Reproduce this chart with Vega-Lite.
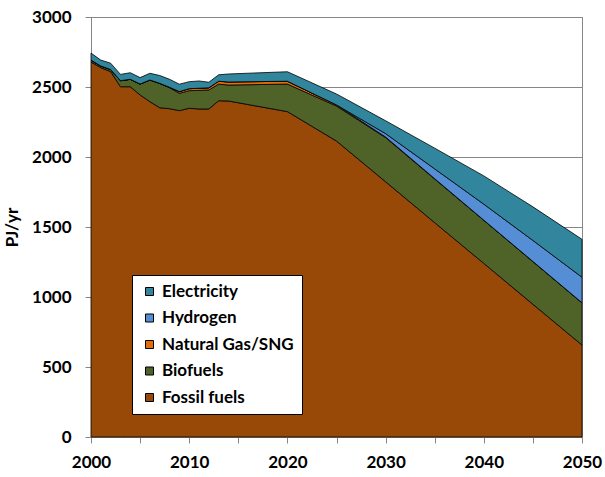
{
  "$schema": "https://vega.github.io/schema/vega-lite/v6.json",
  "width": 491,
  "height": 420,
  "autosize": "none",
  "padding": {"left": 91, "top": 17, "right": 23, "bottom": 40},
  "background": "white",
  "config": {
    "font": "Lato",
    "view": {"stroke": "#868686", "strokeWidth": 1},
    "axis": {
      "labelFont": "Lato",
      "labelFontWeight": "bold",
      "labelFontSize": 17,
      "labelColor": "black",
      "titleFont": "Lato",
      "titleFontWeight": "bold",
      "titleFontSize": 17,
      "titleColor": "black",
      "domainColor": "#868686",
      "tickColor": "#868686",
      "gridColor": "#868686"
    }
  },
  "data": {
    "values": [
      {"year": 2000, "fuel": "Fossil fuels", "pj": 2678}, {"year": 2000, "fuel": "Biofuels", "pj": 14}, {"year": 2000, "fuel": "Natural Gas/SNG", "pj": 0}, {"year": 2000, "fuel": "Hydrogen", "pj": 0}, {"year": 2000, "fuel": "Electricity", "pj": 50},
      {"year": 2001, "fuel": "Fossil fuels", "pj": 2638}, {"year": 2001, "fuel": "Biofuels", "pj": 12}, {"year": 2001, "fuel": "Natural Gas/SNG", "pj": 0}, {"year": 2001, "fuel": "Hydrogen", "pj": 0}, {"year": 2001, "fuel": "Electricity", "pj": 42},
      {"year": 2002, "fuel": "Fossil fuels", "pj": 2610}, {"year": 2002, "fuel": "Biofuels", "pj": 15}, {"year": 2002, "fuel": "Natural Gas/SNG", "pj": 0}, {"year": 2002, "fuel": "Hydrogen", "pj": 0}, {"year": 2002, "fuel": "Electricity", "pj": 45},
      {"year": 2003, "fuel": "Fossil fuels", "pj": 2502}, {"year": 2003, "fuel": "Biofuels", "pj": 43}, {"year": 2003, "fuel": "Natural Gas/SNG", "pj": 0}, {"year": 2003, "fuel": "Hydrogen", "pj": 0}, {"year": 2003, "fuel": "Electricity", "pj": 45},
      {"year": 2004, "fuel": "Fossil fuels", "pj": 2502}, {"year": 2004, "fuel": "Biofuels", "pj": 53}, {"year": 2004, "fuel": "Natural Gas/SNG", "pj": 0}, {"year": 2004, "fuel": "Hydrogen", "pj": 0}, {"year": 2004, "fuel": "Electricity", "pj": 47},
      {"year": 2005, "fuel": "Fossil fuels", "pj": 2443}, {"year": 2005, "fuel": "Biofuels", "pj": 78}, {"year": 2005, "fuel": "Natural Gas/SNG", "pj": 0}, {"year": 2005, "fuel": "Hydrogen", "pj": 0}, {"year": 2005, "fuel": "Electricity", "pj": 46},
      {"year": 2006, "fuel": "Fossil fuels", "pj": 2395}, {"year": 2006, "fuel": "Biofuels", "pj": 155}, {"year": 2006, "fuel": "Natural Gas/SNG", "pj": 0}, {"year": 2006, "fuel": "Hydrogen", "pj": 0}, {"year": 2006, "fuel": "Electricity", "pj": 48},
      {"year": 2007, "fuel": "Fossil fuels", "pj": 2352}, {"year": 2007, "fuel": "Biofuels", "pj": 174}, {"year": 2007, "fuel": "Natural Gas/SNG", "pj": 0}, {"year": 2007, "fuel": "Hydrogen", "pj": 0}, {"year": 2007, "fuel": "Electricity", "pj": 56},
      {"year": 2008, "fuel": "Fossil fuels", "pj": 2345}, {"year": 2008, "fuel": "Biofuels", "pj": 150}, {"year": 2008, "fuel": "Natural Gas/SNG", "pj": 3}, {"year": 2008, "fuel": "Hydrogen", "pj": 0}, {"year": 2008, "fuel": "Electricity", "pj": 57},
      {"year": 2009, "fuel": "Fossil fuels", "pj": 2331}, {"year": 2009, "fuel": "Biofuels", "pj": 124}, {"year": 2009, "fuel": "Natural Gas/SNG", "pj": 12}, {"year": 2009, "fuel": "Hydrogen", "pj": 0}, {"year": 2009, "fuel": "Electricity", "pj": 53},
      {"year": 2010, "fuel": "Fossil fuels", "pj": 2348}, {"year": 2010, "fuel": "Biofuels", "pj": 126}, {"year": 2010, "fuel": "Natural Gas/SNG", "pj": 14}, {"year": 2010, "fuel": "Hydrogen", "pj": 0}, {"year": 2010, "fuel": "Electricity", "pj": 50},
      {"year": 2011, "fuel": "Fossil fuels", "pj": 2343}, {"year": 2011, "fuel": "Biofuels", "pj": 133}, {"year": 2011, "fuel": "Natural Gas/SNG", "pj": 15}, {"year": 2011, "fuel": "Hydrogen", "pj": 0}, {"year": 2011, "fuel": "Electricity", "pj": 52},
      {"year": 2012, "fuel": "Fossil fuels", "pj": 2343}, {"year": 2012, "fuel": "Biofuels", "pj": 136}, {"year": 2012, "fuel": "Natural Gas/SNG", "pj": 15}, {"year": 2012, "fuel": "Hydrogen", "pj": 0}, {"year": 2012, "fuel": "Electricity", "pj": 40},
      {"year": 2013, "fuel": "Fossil fuels", "pj": 2402}, {"year": 2013, "fuel": "Biofuels", "pj": 119}, {"year": 2013, "fuel": "Natural Gas/SNG", "pj": 20}, {"year": 2013, "fuel": "Hydrogen", "pj": 0}, {"year": 2013, "fuel": "Electricity", "pj": 46},
      {"year": 2014, "fuel": "Fossil fuels", "pj": 2400}, {"year": 2014, "fuel": "Biofuels", "pj": 114}, {"year": 2014, "fuel": "Natural Gas/SNG", "pj": 22}, {"year": 2014, "fuel": "Hydrogen", "pj": 0}, {"year": 2014, "fuel": "Electricity", "pj": 57},
      {"year": 2020, "fuel": "Fossil fuels", "pj": 2324}, {"year": 2020, "fuel": "Biofuels", "pj": 197}, {"year": 2020, "fuel": "Natural Gas/SNG", "pj": 20}, {"year": 2020, "fuel": "Hydrogen", "pj": 0}, {"year": 2020, "fuel": "Electricity", "pj": 68},
      {"year": 2025, "fuel": "Fossil fuels", "pj": 2114}, {"year": 2025, "fuel": "Biofuels", "pj": 250}, {"year": 2025, "fuel": "Natural Gas/SNG", "pj": 8}, {"year": 2025, "fuel": "Hydrogen", "pj": 0}, {"year": 2025, "fuel": "Electricity", "pj": 78},
      {"year": 2030, "fuel": "Fossil fuels", "pj": 1823}, {"year": 2030, "fuel": "Biofuels", "pj": 316}, {"year": 2030, "fuel": "Natural Gas/SNG", "pj": 4}, {"year": 2030, "fuel": "Hydrogen", "pj": 24}, {"year": 2030, "fuel": "Electricity", "pj": 92},
      {"year": 2035, "fuel": "Fossil fuels", "pj": 1531}, {"year": 2035, "fuel": "Biofuels", "pj": 312}, {"year": 2035, "fuel": "Natural Gas/SNG", "pj": 2}, {"year": 2035, "fuel": "Hydrogen", "pj": 70}, {"year": 2035, "fuel": "Electricity", "pj": 148},
      {"year": 2040, "fuel": "Fossil fuels", "pj": 1240}, {"year": 2040, "fuel": "Biofuels", "pj": 308}, {"year": 2040, "fuel": "Natural Gas/SNG", "pj": 1}, {"year": 2040, "fuel": "Hydrogen", "pj": 114}, {"year": 2040, "fuel": "Electricity", "pj": 202},
      {"year": 2045, "fuel": "Fossil fuels", "pj": 948}, {"year": 2045, "fuel": "Biofuels", "pj": 305}, {"year": 2045, "fuel": "Natural Gas/SNG", "pj": 1}, {"year": 2045, "fuel": "Hydrogen", "pj": 150}, {"year": 2045, "fuel": "Electricity", "pj": 240},
      {"year": 2050, "fuel": "Fossil fuels", "pj": 657}, {"year": 2050, "fuel": "Biofuels", "pj": 301}, {"year": 2050, "fuel": "Natural Gas/SNG", "pj": 1}, {"year": 2050, "fuel": "Hydrogen", "pj": 182}, {"year": 2050, "fuel": "Electricity", "pj": 271}
    ]
  },
  "transform": [
    {"calculate": "indexof(['Fossil fuels', 'Biofuels', 'Natural Gas/SNG', 'Hydrogen', 'Electricity'], datum.fuel)", "as": "stackRank"}
  ],
  "mark": {"type": "area", "stroke": "black", "strokeWidth": 0.8, "opacity": 1, "fillOpacity": 1},
  "encoding": {
    "x": {
      "field": "year",
      "type": "quantitative",
      "scale": {"domain": [2000, 2050], "nice": false, "zero": false},
      "axis": {
        "title": null,
        "values": [2000, 2005, 2010, 2015, 2020, 2025, 2030, 2035, 2040, 2045, 2050],
        "format": "d",
        "labelExpr": "datum.value % 10 === 0 ? datum.label : ''",
        "grid": false,
        "tickSize": 6,
        "labelPadding": 11,
        "labelFlush": false,
        "labelOverlap": false
      }
    },
    "y": {
      "field": "pj",
      "type": "quantitative",
      "stack": "zero",
      "scale": {"domain": [0, 3000], "nice": false},
      "axis": {
        "title": "PJ/yr",
        "values": [0, 500, 1000, 1500, 2000, 2500, 3000],
        "format": "d",
        "grid": true,
        "tickSize": 6,
        "labelPadding": 14,
        "titlePadding": 10
      }
    },
    "color": {
      "field": "fuel",
      "type": "nominal",
      "scale": {
        "domain": ["Electricity", "Hydrogen", "Natural Gas/SNG", "Biofuels", "Fossil fuels"],
        "range": ["#31859C", "#558ED5", "#E46C0A", "#4F6228", "#984807"]
      },
      "legend": {
        "title": null,
        "orient": "none",
        "legendX": 41,
        "legendY": 258,
        "direction": "vertical",
        "fillColor": "white",
        "strokeColor": "black",
        "padding": 8,
        "symbolType": "square",
        "symbolSize": 64,
        "symbolStrokeColor": "black",
        "symbolStrokeWidth": 1,
        "symbolOpacity": 1,
        "symbolOffset": 1,
        "labelOffset": 4,
        "labelFont": "Lato",
        "labelFontWeight": "bold",
        "labelFontSize": 17,
        "labelColor": "black",
        "labelLimit": 300,
        "rowPadding": 8.5
      }
    },
    "order": {"field": "stackRank", "type": "quantitative", "sort": "ascending"}
  }
}
